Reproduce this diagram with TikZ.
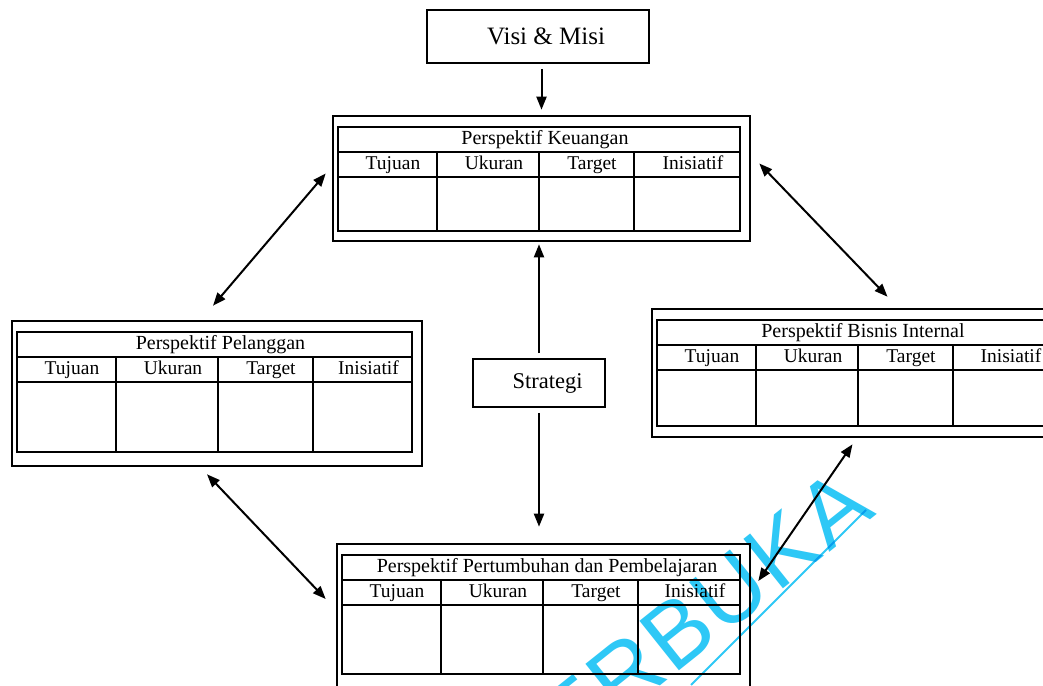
\documentclass[tikz,border=0pt]{standalone}
\usepackage{fontspec}
\setmainfont{Liberation Serif}
\newfontfamily\wmfont{Liberation Sans}
\usetikzlibrary{positioning,arrows.meta,fit,calc}
\definecolor{wmcyan}{HTML}{2EC8F6}

% one perspective: [title opts]{name}{x}{y}{width}{body height}{bottom margin}{title}
\newcommand{\perspektif}[8][]{%
  \begin{scope}[shift={(#3,#4)}]
    \draw[garis] (0,0) rectangle (#5,50+#6);
    \draw[garis] (0,25) -- (#5,25) (0,50) -- (#5,50);
    \foreach \kx in {99,201,296} \draw[garis] (\kx,25) -- (\kx,50+#6);
    \node[judul,#1] (#2-j) at ({#5/2},12.5) {#8};
    \node[kepala] (#2-1) at (55,37.5) {Tujuan};
    \node[kepala] (#2-2) at (156,37.5) {Ukuran};
    \node[kepala] (#2-3) at (254,37.5) {Target};
    \node[kepala] (#2-4) at ({(296+#5)/2+6},37.5) {Inisiatif};
    \coordinate (#2-a) at (-5,-11);
    \coordinate (#2-b) at (#5+10,50+#6+#7);
  \end{scope}
  \node[bingkai,fit=(#2-a)(#2-b)] (#2) {};
}

\begin{document}
\begin{tikzpicture}[
    x=1pt, y=-1pt,
    garis/.style={line width=1.6pt},
    bingkai/.style={draw,line width=2.6pt,inner sep=0pt},
    judul/.style={font=\fontsize{20}{22}\selectfont,inner sep=0pt,text height=14pt,text depth=4.5pt,xshift=6pt},
    kepala/.style={font=\fontsize{19.5}{21}\selectfont,inner sep=0pt,text height=13.5pt,text depth=4.5pt},
    kotak/.style={draw,line width=1.8pt,inner sep=0pt},
    panah/.style={-{Triangle[length=13pt,width=10pt]},line width=2pt},
    dua/.style={{Triangle[length=13pt,width=10pt]}-{Triangle[length=13pt,width=10pt]},line width=2pt},
    wm/.style={text=wmcyan,font=\wmfont\fontsize{92}{92}\selectfont,rotate=38.6,inner sep=0pt}]
  \useasboundingbox (0,0) rectangle (1043,685);
  \fill[white] (0,0) rectangle (1043,685);
  \clip (0,0) rectangle (1043,685);

  \node[kotak,minimum width=222pt,minimum height=53pt,font=\fontsize{25}{28}\selectfont]
    (visi) at (538,36.5) {\hspace*{16pt}Visi \& Misi};
  \node[kotak,minimum width=132pt,minimum height=48pt,font=\fontsize{22.5}{25}\selectfont]
    (strat) at (539,383) {\hspace*{17pt}Strategi};

  \perspektif{keu}{338}{127}{402}{54}{10}{Perspektif Keuangan}
  \perspektif{pel}{17}{332}{395}{70}{14}{Perspektif Pelanggan}
  \perspektif{bis}{657}{320}{400}{56}{11}{Perspektif Bisnis Internal}
  \perspektif{per}{342}{555}{398}{69}{22}{Perspektif Pertumbuhan dan Pembelajaran}

  \draw[panah,shorten <=5pt,shorten >=5pt] (visi.south -| keu.north) -- (keu.north);
  \draw[panah,shorten <=5pt,shorten >=2pt] (strat.north) -- (strat.north |- keu.south);
  \draw[panah,shorten <=5pt,shorten >=16pt] (strat.south) -- (strat.south |- per.north);

  \draw[dua] ([xshift=-6pt,yshift=5pt]keu.west) -- ([xshift=-4pt,yshift=14pt]pel.north);
  \draw[dua] ([xshift=8pt,yshift=15pt]keu.east) -- ([xshift=28pt,yshift=11pt]bis.north);
  \draw[dua] ([xshift=-10pt,yshift=-7pt]pel.south) -- ([xshift=-10pt,yshift=21pt]per.west);
  \draw[dua] ([xshift=-7pt,yshift=-6pt]bis.south) -- ([xshift=7pt,yshift=39pt]per.east);

  % watermark
  \begin{scope}[blend mode=multiply]
    \foreach \h/\px/\py in {T/522/757,E/574/715,R/626/673,B/678/632,U/730/591,K/782/550,A/834/509}
      \node[wm] (wm-\h) at (\px,\py) {\h};
    \draw[wmcyan,line width=2pt] (866,510) -- (691,685);
  \end{scope}
\end{tikzpicture}
\end{document}
